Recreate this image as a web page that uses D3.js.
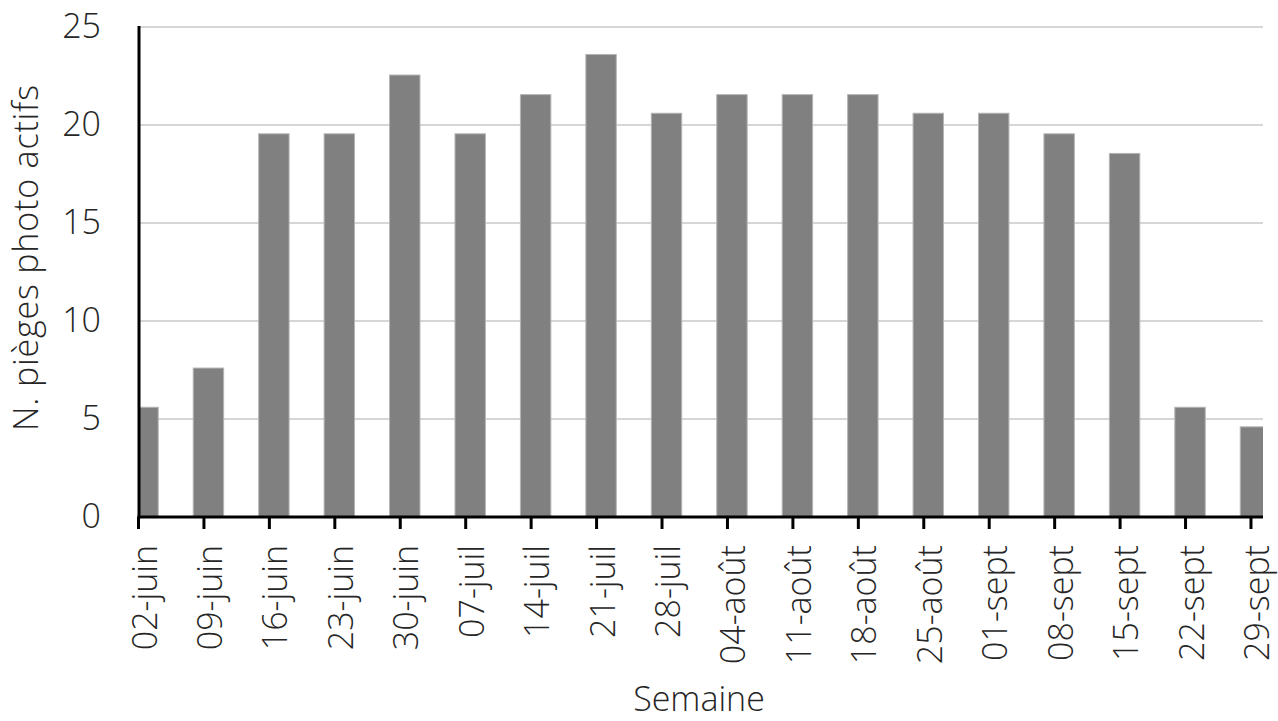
<!DOCTYPE html>
<html>
<head>
<meta charset="utf-8">
<script src="https://cdn.jsdelivr.net/npm/d3@7"></script>
<style>
  html, body { margin: 0; padding: 0; background: #fff; }
  svg { display: block; }
  text { font-family: "Open Sans", "Noto Sans", sans-serif; font-weight: 300; fill: #262626; }
</style>
</head>
<body>
<svg id="chart" width="1278" height="721"></svg>
<script>
const categories = ["02-juin","09-juin","16-juin","23-juin","30-juin","07-juil","14-juil","21-juil","28-juil",
  "04-août","11-août","18-août","25-août","01-sept","08-sept","15-sept","22-sept","29-sept"];
const values = [5.6, 7.6, 19.55, 19.55, 22.55, 19.55, 21.55, 23.6, 20.6, 21.55, 21.55, 21.55, 20.6, 20.6, 19.55, 18.55, 5.6, 4.6];
const yTicks = [0, 5, 10, 15, 20, 25];
const yTitle = "N. pièges photo actifs";
const xTitle = "Semaine";

const svg = d3.select("#chart");
const plot = { left: 139, right: 1263, top: 27, bottom: 517 };
const fs = 34;

const step = 65.44;
const x = d3.scaleBand()
  .domain(categories)
  .range([143 - step / 2, 143 - step / 2 + step * categories.length])
  .paddingInner(0.535)
  .paddingOuter(0.2675);
const tickShift = -4.5;
const tickX = c => x(c) + x.bandwidth() / 2 + tickShift;

const y = d3.scaleLinear().domain([0, 25]).range([plot.bottom, plot.top]);

// clip
svg.append("defs").append("clipPath").attr("id", "clip")
  .append("rect")
  .attr("x", plot.left).attr("y", 0)
  .attr("width", plot.right - plot.left).attr("height", plot.bottom);

// gridlines
svg.append("g").selectAll("line")
  .data(yTicks.filter(d => d > 0))
  .join("line")
  .attr("x1", plot.left).attr("x2", plot.right)
  .attr("y1", d => y(d)).attr("y2", d => y(d))
  .attr("stroke", "#d6d6d6").attr("stroke-width", 2);

// bars
svg.append("g").attr("clip-path", "url(#clip)")
  .selectAll("rect")
  .data(categories.map((c, i) => ({ c, v: values[i] })))
  .join("rect")
  .attr("x", d => x(d.c))
  .attr("width", x.bandwidth())
  .attr("y", d => y(d.v))
  .attr("height", d => y(0) - y(d.v))
  .attr("fill", "#808080")
  .attr("stroke", "#b5b5b5")
  .attr("stroke-width", 1);

// y tick labels
svg.append("g").selectAll("text")
  .data(yTicks)
  .join("text")
  .attr("x", 101)
  .attr("y", d => y(d) + 10.5)
  .attr("text-anchor", "end")
  .attr("font-size", fs)
  .text(d => d);

// axes lines
svg.append("line")
  .attr("x1", plot.left).attr("x2", plot.left)
  .attr("y1", plot.top - 1).attr("y2", plot.bottom + 1.5)
  .attr("stroke", "#000").attr("stroke-width", 3);
svg.append("line")
  .attr("x1", plot.left - 1.5).attr("x2", plot.right)
  .attr("y1", plot.bottom).attr("y2", plot.bottom)
  .attr("stroke", "#000").attr("stroke-width", 3);

// x ticks
svg.append("g").selectAll("line")
  .data(categories)
  .join("line")
  .attr("x1", tickX).attr("x2", tickX)
  .attr("y1", plot.bottom).attr("y2", plot.bottom + 12)
  .attr("stroke", "#000").attr("stroke-width", 3);

// x labels
svg.append("g").selectAll("text")
  .data(categories)
  .join("text")
  .attr("transform", c => `translate(${tickX(c)},545) rotate(-90)`)
  .attr("text-anchor", "end")
  .attr("dy", 18)
  .attr("font-size", fs)
  .text(c => c);

// titles
svg.append("text")
  .attr("transform", `translate(38,258) rotate(-90)`)
  .attr("text-anchor", "middle")
  .attr("font-size", fs)
  .attr("textLength", 346)
  .attr("lengthAdjust", "spacing")
  .text(yTitle);

svg.append("text")
  .attr("x", 699).attr("y", 711)
  .attr("text-anchor", "middle")
  .attr("font-size", fs)
  .text(xTitle);
</script>
</body>
</html>
